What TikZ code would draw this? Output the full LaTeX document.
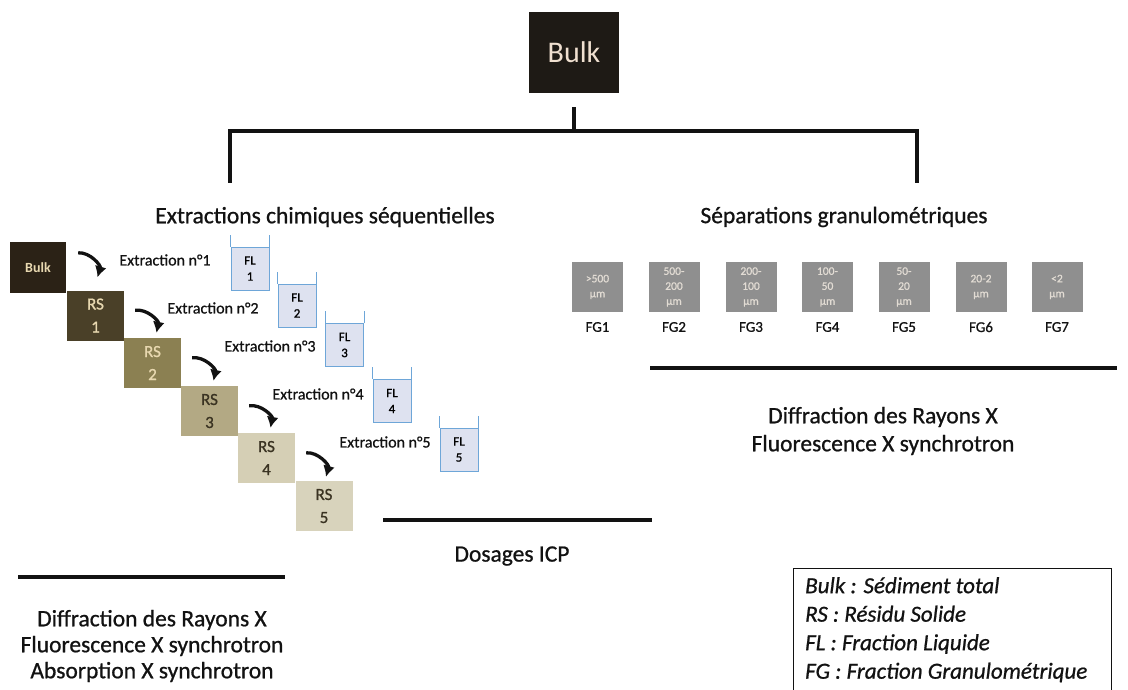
\documentclass[tikz,border=0pt]{standalone}
\usepackage{fontspec}
\setmainfont{Carlito}
\newfontfamily\heavyfont{Carlito}[FakeBold=0.8]
\usepackage{xcolor}
\usetikzlibrary{arrows.meta}
\definecolor{inkdark}{HTML}{121212}
\definecolor{bulkdark}{HTML}{1E1A15}
\definecolor{bulktext}{HTML}{F0E0D0}
\definecolor{rszero}{HTML}{2B2216}
\definecolor{rsone}{HTML}{4A4028}
\definecolor{rstwo}{HTML}{8B8052}
\definecolor{rsthree}{HTML}{B3A984}
\definecolor{rsfour}{HTML}{D5CFB5}
\definecolor{rsfive}{HTML}{D8D3BC}
\definecolor{rslight}{HTML}{E8D8B0}
\definecolor{rsdark}{HTML}{3A3322}
\definecolor{cupblue}{HTML}{6EA6D8}
\definecolor{cupfill}{HTML}{DEE2F0}
\definecolor{fggray}{HTML}{8F8F8F}
\definecolor{fgtext}{HTML}{E2DCD4}

\begin{document}
\begin{tikzpicture}[x=1pt,y=-1pt,
% common options for the solid residues:
residue/.style = {align=center, minimum width=57pt, minimum height=50pt,
            inner sep=0, font=\heavyfont\fontsize{17}{23}\selectfont},
% common options for the liquid fractions:
liquid/.style = {draw=cupblue, fill=cupfill, align=center, line width=0.8pt,
            minimum width=38pt, minimum height=43pt, inner sep=0,
            font=\heavyfont\fontsize{13}{16}\selectfont},
% common options for the grain size fractions:
sieve/.style = {fill=fggray, text=fgtext, align=center, minimum width=51pt,
            minimum height=50pt, inner sep=0, font=\heavyfont\fontsize{11.5}{15}\selectfont},
extr/.style = {text=inkdark, inner sep=0, font=\heavyfont\fontsize{16}{20}\selectfont},
heading/.style = {text=inkdark, align=center, inner sep=0,
            font=\heavyfont\fontsize{23.5}{28}\selectfont},
bar/.style = {draw=inkdark, line width=3.5pt},
curl/.style = {draw=inkdark, line width=3.3pt, -{Latex[length=11pt,width=12pt]}, bend left=55}]
\useasboundingbox (0,0) rectangle (1128,690);
\clip (0,0) rectangle (1128,690);
% top of the tree
\node[fill=bulkdark, text=bulktext, minimum width=90pt, minimum height=81pt,
      font=\fontsize{30}{36}\selectfont] (bulk) at (574,52.5) {Bulk};
\coordinate (tm) at (574,131);
\coordinate (tl) at (230,183);
\coordinate (tr) at (917,183);
\draw[bar] ([yshift=-14pt]bulk.south) -- (tm);
\draw[bar] (tl) -- ++(0,-52) -| (tr);
\node[heading] (chem) at (325,217) {Extractions chimiques séquentielles};
\node[heading] (gran) at (844,217) {Séparations granulométriques};
% sequential extractions
\node[residue, fill=rszero, text=rslight, minimum width=56pt, minimum height=51pt,
      font=\bfseries\fontsize{14}{18}\selectfont] (rs0) at (38,267.5) {Bulk};
\node[residue, fill=rsone, text=rslight] (rs1) at (95.5,315.5) {RS\\1};
\node[residue, fill=rstwo, text=rslight] (rs2) at (152.5,363) {RS\\2};
\node[residue, fill=rsthree, text=rsdark] (rs3) at (209.5,411) {RS\\3};
\node[residue, fill=rsfour, text=rsdark] (rs4) at (266.5,458) {RS\\4};
\node[residue, fill=rsfive, text=rsdark] (rs5) at (324,506) {RS\\5};
\draw[curl] ([xshift=12pt,yshift=-11pt]rs0.north east) to ([xshift=2pt,yshift=13pt]rs1.north);
\draw[curl] ([xshift=11pt,yshift=-20pt]rs1.north east) to ([xshift=4pt,yshift=5pt]rs2.north);
\draw[curl] ([xshift=11pt,yshift=-20pt]rs2.north east) to ([xshift=4pt,yshift=5pt]rs3.north);
\draw[curl] ([xshift=11pt,yshift=-20pt]rs3.north east) to ([xshift=4pt,yshift=5pt]rs4.north);
\draw[curl] ([xshift=11pt,yshift=-20pt]rs4.north east) to ([xshift=2pt,yshift=4pt]rs5.north);
\node[extr] (e1) at (165,260) {Extraction n°1};
\node[extr] (e2) at (213,308) {Extraction n°2};
\node[extr] (e3) at (270,346) {Extraction n°3};
\node[extr] (e4) at (318,394) {Extraction n°4};
\node[extr] (e5) at (385,442) {Extraction n°5};
\node[liquid] (fl1) at (250,268.5) {FL\\1};
\node[liquid] (fl2) at (297,305.5) {FL\\2};
\node[liquid] (fl3) at (344.5,345) {FL\\3};
\node[liquid] (fl4) at (392,401) {FL\\4};
\node[liquid] (fl5) at (459,449.5) {FL\\5};
\draw[cupblue, line width=0.8pt] (fl1.north west) -- ++(0,-12) (fl1.north east) -- ++(0,-12);
\draw[cupblue, line width=0.8pt] (fl2.north west) -- ++(0,-12) (fl2.north east) -- ++(0,-12);
\draw[cupblue, line width=0.8pt] (fl3.north west) -- ++(0,-12) (fl3.north east) -- ++(0,-12);
\draw[cupblue, line width=0.8pt] (fl4.north west) -- ++(0,-12) (fl4.north east) -- ++(0,-12);
\draw[cupblue, line width=0.8pt] (fl5.north west) -- ++(0,-12) (fl5.north east) -- ++(0,-12);
\draw[bar] (383,520) -- (652,520);
\node[heading] (icp) at (512,556) {Dosages ICP};
\draw[bar] (18,577) -- (285,577);
\node[heading, font=\heavyfont\fontsize{23.5}{26}\selectfont] (anl) at (152,646)
      {Diffraction des Rayons X\\Fluorescence X synchrotron\\Absorption X synchrotron};
% grain size separations
\node[sieve] (fg1) at (597.5,287) {>500\\µm};
\node[sieve] (fg2) at (674,287) {500-\\200\\µm};
\node[sieve] (fg3) at (751,287) {200-\\100\\µm};
\node[sieve] (fg4) at (827.5,287) {100-\\50\\µm};
\node[sieve] (fg5) at (904,287) {50-\\20\\µm};
\node[sieve] (fg6) at (981,287) {20-2\\µm};
\node[sieve] (fg7) at (1057,287) {<2\\µm};
\node[extr, font=\heavyfont\fontsize{15}{16}\selectfont] at (597.5,327) {FG1};
\node[extr, font=\heavyfont\fontsize{15}{16}\selectfont] at (674,327) {FG2};
\node[extr, font=\heavyfont\fontsize{15}{16}\selectfont] at (751,327) {FG3};
\node[extr, font=\heavyfont\fontsize{15}{16}\selectfont] at (827.5,327) {FG4};
\node[extr, font=\heavyfont\fontsize{15}{16}\selectfont] at (904,327) {FG5};
\node[extr, font=\heavyfont\fontsize{15}{16}\selectfont] at (981,327) {FG6};
\node[extr, font=\heavyfont\fontsize{15}{16}\selectfont] at (1057,327) {FG7};
\draw[bar] (650,368) -- (1117,368);
\node[heading] (anr) at (883,431) {Diffraction des Rayons X\\Fluorescence X synchrotron};
% legend
\draw[inkdark, line width=1pt] (793,568) rectangle (1111,700);
\node[anchor=north west, align=left, inner sep=0, text=inkdark,
      font=\heavyfont\itshape\fontsize{23}{28.5}\selectfont] (lgd) at (805,577)
      {Bulk : Sédiment total\\RS : Résidu Solide\\FL : Fraction Liquide\\FG : Fraction Granulométrique};
\end{tikzpicture}
\end{document}
